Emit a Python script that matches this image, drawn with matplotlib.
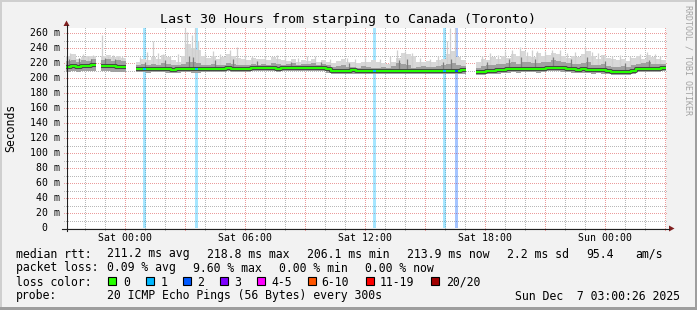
import numpy as np
import matplotlib
matplotlib.use("Agg")
import matplotlib.pyplot as plt
from matplotlib.patches import Rectangle, Polygon
from matplotlib.lines import Line2D
from matplotlib.transforms import blended_transform_factory, offset_copy

nan = float("nan")

# ---------------- data ----------------
title = "Last 30 Hours from starping to Canada (Toronto)"
step_hours = 0.25          # one sample every 15 minutes
first_hour = -2.95         # window start, hours relative to Sat 00:00
window_hours = 30.0
y_top_ms = 266.667

median_ms = [
    215, 215.5, 215, 216, 216, 217,
    nan,
    216, 216.5, 215.5, 215, 215,
    nan, nan,
    212.5, 212, 211.5, 212, 212.5, 212, 211.5, 211, 211.5, 212,
    212, 211.5, 211.5, 212, 212.5, 212, 212, 212.5, 213, 212.5,
    212, 212, 212.5, 213, 213, 213, 213.5, 213, 212.5, 213,
    213.5, 213, 213.5, 214, 214, 213.5, 213.5, 214, 212, 210,
    209.5, 209.5, 210, 210.5, 210, 209.5, 209.5, 210, 210, 209.5,
    209, 209.5, 210, 210, 209.5, 209, 209.5, 210, 209.5, 209,
    209.5, 210, 210, 209.5, 210, 210.5,
    nan, nan,
    208, 208.5, 209.5, 210, 210.5, 211, 211.5, 212, 211.5, 212,
    212.5, 212, 211.5, 212.5, 213, 214, 214, 213, 212, 211.5,
    211, 211.5, 211, 210.5, 211, 210.5, 209, 208.5, 208, 208,
    208.5, 210, 212, 212.5, 212.5, 212, 212.5, 213,
]

smoke_min_ms = [
    208, 209, 208, 209, 209, 210,
    nan,
    209, 209, 208, 208, 208,
    nan, nan,
    208, 208, 207, 208, 208, 208, 207, 207, 207, 208,
    208, 207, 207, 208, 208, 208, 208, 208, 209, 208,
    208, 208, 208, 209, 209, 209, 209, 209, 208, 209,
    209, 209, 209, 210, 210, 209, 209, 210, 207, 206,
    205, 205, 206, 206, 206, 205, 205, 206, 206, 205,
    205, 205, 206, 206, 205, 205, 205, 206, 205, 205,
    205, 206, 206, 205, 206, 206,
    nan, nan,
    204, 204, 205, 206, 206, 207, 207, 208, 207, 208,
    208, 208, 207, 208, 209, 209, 209, 208, 208, 207,
    207, 207, 207, 206, 207, 206, 205, 204, 204, 204,
    204, 206, 208, 208, 208, 208, 208, 209,
]

smoke_mid_ms = [
    223, 224, 222, 224, 223, 225,
    nan,
    224, 225, 223, 224, 223,
    nan, nan,
    218, 219, 217, 219, 218, 220, 219, 217, 217, 219,
    222, 221, 220, 218, 218, 219, 217, 218, 220, 219,
    218, 217, 218, 219, 218, 219, 218, 220, 219, 218,
    219, 220, 218, 219, 219, 220, 218, 219, 217, 215,
    216, 217, 215, 215, 214, 216, 215, 214, 214, 215,
    214, 216, 220, 219, 217, 214, 215, 216, 215, 215,
    216, 217, 219, 220, 217, 216,
    nan, nan,
    214, 216, 217, 218, 219, 219, 220, 221, 219, 222,
    221, 220, 220, 221, 222, 224, 223, 221, 220, 219,
    219, 220, 222, 218, 218, 219, 216, 215, 215, 216,
    215, 217, 219, 220, 221, 219, 219, 219,
]

smoke_max_ms = [
    229, 232, 226, 228, 230, 229,
    nan,
    229, 231, 228, 230, 227,
    nan, nan,
    222, 226, 224, 228, 226, 231, 228, 224, 222, 230,
    245, 240, 238, 230, 227, 230, 225, 228, 232, 229,
    227, 226, 224, 227, 225, 226, 224, 228, 226, 224,
    223, 225, 222, 224, 223, 225, 222, 224, 222, 220,
    223, 226, 222, 221, 220, 222, 221, 224, 222, 220,
    219, 221, 227, 233, 232, 230, 222, 221, 223, 222,
    224, 226, 232, 236, 228, 224,
    nan, nan,
    222, 226, 224, 228, 226, 230, 227, 232, 229, 236,
    230, 228, 233, 229, 231, 234, 232, 229, 227, 230,
    228, 232, 236, 229, 226, 231, 227, 225, 224, 226,
    223, 227, 229, 226, 231, 228, 225, 224,
]

# tall single-sample maxima (light smoke)
spike_hours = [-1.15, 1.4, 1.9, 3.0, 3.1, 3.35, 3.5, 3.65, 4.4, 5.25, 5.6,
               7.6, 9.1, 11.1, 13.6, 14.0, 14.35, 16.1, 16.25, 16.5,
               19.75, 20.6, 21.35, 23.0, 23.9, 26.1,
               -2.75, -2.5, -2.1, -1.85, -1.6, -0.85, -0.6, -0.35, -0.15,
               0.75, 1.1, 1.65, 2.25, 2.65, 4.0, 4.75, 6.0, 6.35, 7.0, 8.0,
               8.65, 9.5, 10.25, 11.5, 12.0, 12.75, 13.25, 14.75, 15.25, 15.65,
               17.85, 18.25, 18.65, 19.0, 19.35, 20.1, 20.35, 21.0, 21.75,
               22.1, 22.5, 23.35, 23.65, 24.35, 24.75, 25.25, 25.75, 26.5, 26.75]
spike_top_ms = [257, 250, 232, 267, 262, 258, 267, 250, 236, 238, 241,
                231, 229, 227, 238, 236, 234, 250, 267, 267,
                241, 236, 237, 241, 231, 235,
                233, 228, 232, 230, 231, 229, 231, 228, 230,
                228, 235, 233, 229, 232, 234, 232, 231, 229, 230, 228,
                227, 229, 226, 225, 228, 226, 229, 227, 226, 230,
                230, 233, 231, 236, 238, 235, 238, 236, 237,
                233, 235, 235, 233, 230, 231, 229, 232, 232, 229]

# darker tufts (middle pings)
tuft_hours = [-2.8, -2.3, -1.7, -1.0, -0.5,
              1.0, 2.0, 3.2, 3.4, 4.5, 5.4, 6.6, 8.3, 9.8, 11.2, 13.7, 14.1, 15.9, 16.3,
              18.1, 19.2, 19.8, 20.5, 21.4, 22.3, 23.1, 24.0, 25.0, 26.2]
tuft_top_ms = [226, 227, 226, 227, 226,
               222, 224, 230, 228, 224, 225, 223, 222, 222, 220, 224, 226, 222, 226,
               222, 226, 228, 226, 228, 225, 228, 223, 220, 224]

loss_hours = [0.975, 3.575, 12.475, 15.985, 16.565]
loss_count_idx = [1, 1, 1, 1, 2]

loss_labels = ["0", "1", "2", "3", "4-5", "6-10", "11-19", "20/20"]
loss_colors = ["#26ff00", "#00b8ff", "#0059ff", "#7e00ff",
               "#ff00ff", "#ff5500", "#ff0000", "#a10000"]

tick_hours = [0, 6, 12, 18, 24]
tick_labels = ["Sat 00:00", "Sat 06:00", "Sat 12:00", "Sat 18:00", "Sun 00:00"]
ytick_vals = list(range(20, 261, 20))

rtt_stats = ["211.2 ms avg", "218.8 ms max", "206.1 ms min",
             "213.9 ms now", "2.2 ms sd", "95.4", "am/s"]
loss_stats = ["0.09 % avg", "9.60 % max", "0.00 % min", "0.00 % now"]
probe_text = "20 ICMP Echo Pings (56 Bytes) every 300s"
date_text = "Sun Dec  7 03:00:26 2025"
watermark = "RRDTOOL / TOBI OETIKER"

# ---------------- figure ----------------
W, H, DPI = 697, 310, 100
MONO = "DejaVu Sans Mono"
fig = plt.figure(figsize=(W / DPI, H / DPI), dpi=DPI, facecolor="#f2f2f2")

PX_L, PX_R, PX_T, PX_B = 66, 666, 28, 228
ax = fig.add_axes([PX_L / W, 1 - PX_B / H, (PX_R - PX_L) / W, (PX_B - PX_T) / H])
ax.set_facecolor("white")
x0, x1 = first_hour, first_hour + window_hours
ax.set_xlim(x0, x1)
ax.set_ylim(0, y_top_ms)
for s in ax.spines.values():
    s.set_visible(False)
ax.set_xticks([])
ax.set_yticks([])

hpp = window_hours / (PX_R - PX_L)   # hours per pixel
mpp = y_top_ms / (PX_B - PX_T)       # ms per pixel

grid_gray = "#b8b8b8"
grid_red = "#eb9c9c"
dash = (0, (1, 2))
for v in range(10, 261, 10):
    ax.plot([x0 - 2 * hpp, x1 + 2 * hpp], [v, v], color=grid_red if v % 20 == 0 else grid_gray,
            lw=0.72, ls=dash, clip_on=False, zorder=1, antialiased=False)
for h in range(-2, 28):
    ax.plot([h, h], [-2 * mpp, y_top_ms + 1 * mpp], color=grid_red if h % 3 == 0 else grid_gray,
            lw=0.72, ls=dash, clip_on=False, zorder=1, antialiased=False)

# loss background bars
for h, n in zip(loss_hours, loss_count_idx):
    ax.axvspan(h - 0.07, h + 0.07, color=loss_colors[n], alpha=0.35, lw=0, zorder=2)

t = first_hour + step_hours * np.arange(len(median_ms))
med = np.array(median_ms, dtype=float)
smin = np.array(smoke_min_ms, dtype=float)
smid = np.array(smoke_mid_ms, dtype=float)
smax = np.array(smoke_max_ms, dtype=float)

ax.bar(t, smax - smin, bottom=smin, width=step_hours, align="edge", color="#d8d8d8",
       linewidth=0, antialiased=False, zorder=3)


def med_at(h):
    i = int((h - first_hour) // step_hours)
    return med[i]


ax.vlines(spike_hours, [med_at(h) for h in spike_hours], spike_top_ms,
          color="#cfcfcf", lw=0.9, zorder=3.5)

ax.bar(t, smid - smin, bottom=smin, width=step_hours, align="edge", color="#a0a0a0",
       linewidth=0, antialiased=False, zorder=4)

ax.vlines(tuft_hours, [med_at(h) for h in tuft_hours], tuft_top_ms,
          color="#7e7e7e", lw=0.9, zorder=4.5)

edges = first_hour + step_hours * np.arange(len(med) + 1)
finite = np.isfinite(med)
i = 0
while i < len(med):
    if finite[i]:
        j = i
        while j < len(med) and finite[j]:
            j += 1
        xs = edges[i:j + 1]
        ys = np.append(med[i:j], med[j - 1])
        ax.plot(xs, ys, drawstyle="steps-post", color="#454545", lw=2.9,
                solid_capstyle="butt", zorder=5)
        ax.plot(xs, ys, drawstyle="steps-post", color=loss_colors[0], lw=1.5,
                solid_capstyle="butt", zorder=6)
        i = j
    else:
        i += 1

for h, n in zip(loss_hours, loss_count_idx):
    m = med_at(h)
    ax.plot([h - 0.07, h + 0.07], [m, m], color=loss_colors[n], lw=1.5,
            solid_capstyle="butt", zorder=7)

# ---------------- axis labels ----------------
xtrans = blended_transform_factory(ax.transData, fig.transFigure)
for h, lab in zip(tick_hours, tick_labels):
    ax.text(h, 1 - 241 / H, lab, transform=xtrans, ha="center", va="baseline",
            fontsize=7.1, family=MONO, color="black")

ytrans_base = blended_transform_factory(ax.transAxes, ax.transData)
ylab_trans = offset_copy(ytrans_base, fig=fig, x=-6.5, y=-3.4, units="dots")
for v in ytick_vals:
    ax.text(0, v, f"{v} m", transform=ylab_trans, ha="right", va="baseline",
            fontsize=7.1, family=MONO, color="black")
zero_trans = offset_copy(ytrans_base, fig=fig, x=-18.7, y=-3.4, units="dots")
ax.text(0, 0, "0", transform=zero_trans, ha="right", va="baseline",
        fontsize=7.1, family=MONO, color="black")

# ---------------- pixel-space decorations ----------------
def fx(x):
    return x / W


def fy(y):
    return 1 - y / H


def ftext(x, y, s, size=8.3, **kw):
    kw.setdefault("ha", "left")
    kw.setdefault("va", "baseline")
    fig.text(fx(x), fy(y), s, fontsize=size, family=MONO, **kw)


axis_col = "#1f1f1f"
arrow_col = "#801f1f"
fig.add_artist(Line2D([fx(66.5), fx(66.5)], [fy(231), fy(25)], color=axis_col, lw=0.8))
fig.add_artist(Line2D([fx(62), fx(669)], [fy(228.5), fy(228.5)], color=axis_col, lw=0.8))
fig.add_artist(Polygon([(fx(66.5), fy(20.5)), (fx(63.5), fy(26)), (fx(69.5), fy(26))],
                       closed=True, transform=fig.transFigure, color=arrow_col, lw=0))
fig.add_artist(Polygon([(fx(674.5), fy(228.5)), (fx(669), fy(225.5)), (fx(669), fy(231.5))],
                       closed=True, transform=fig.transFigure, color=arrow_col, lw=0))

# frame shading
fig.add_artist(Rectangle((0, fy(2)), 1, 2 / H, transform=fig.transFigure, color="#cfcfcf", lw=0))
fig.add_artist(Rectangle((0, 0), 2 / W, 1, transform=fig.transFigure, color="#cfcfcf", lw=0))
fig.add_artist(Rectangle((0, 0), 1, 3 / H, transform=fig.transFigure, color="#9e9e9e", lw=0))
fig.add_artist(Rectangle((fx(695), 0), 2 / W, 1, transform=fig.transFigure, color="#9e9e9e", lw=0))

# title, y label, watermark
ftext(348.5, 23.5, title, size=9.6, ha="center")
ftext(10.5, 128, "Seconds", size=8.3, rotation=90, ha="center", va="center")
ftext(688, 60, watermark, size=6, rotation=-90, ha="center", va="center", color="#a3a3a3")

# legend rows
row_y = [257.5, 271.5, 285.5, 299.5]
ftext(16, row_y[0], "median rtt:")
for s, x in zip(rtt_stats, [107, 207, 307, 407, 507, 586, 635]):
    ftext(x, row_y[0], s)

ftext(16, row_y[1], "packet loss:")
for s, x in zip(loss_stats, [107, 193, 279, 365]):
    ftext(x, row_y[1], s)

ftext(16, row_y[2], "loss color:")
box_x = [108, 145.5, 182.5, 219.5, 256.5, 308, 366, 430.5]
lab_x = [123, 160.5, 197.5, 234.5, 271.5, 321.5, 380, 446]
for bx, lx, lab, col in zip(box_x, lab_x, loss_labels, loss_colors):
    fig.add_artist(Rectangle((fx(bx), fy(285)), 8 / W, 8 / H, transform=fig.transFigure,
                             facecolor=col, edgecolor="black", lw=0.8))
    ftext(lx, row_y[2], lab)

ftext(16, row_y[3], "probe:")
ftext(107, row_y[3], probe_text)
ftext(680, row_y[3], date_text, ha="right")

fig.savefig("out.png", dpi=DPI, facecolor=fig.get_facecolor())
